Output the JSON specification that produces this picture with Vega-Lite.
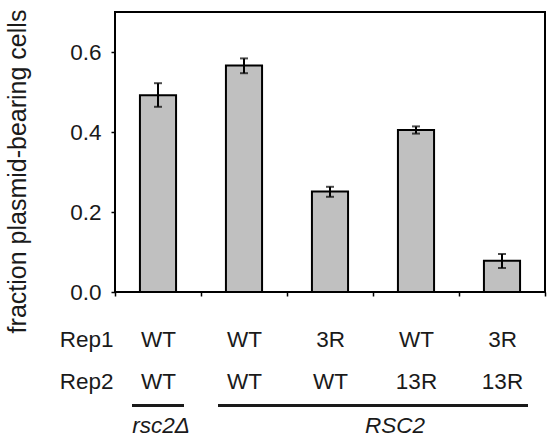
{
  "$schema": "https://vega.github.io/schema/vega-lite/v6.json",
  "width": 430,
  "height": 280,
  "autosize": {"type": "none"},
  "padding": {"left": 115, "top": 12, "right": 7, "bottom": 149},
  "background": "white",
  "config": {
    "font": "Liberation Sans",
    "view": {"stroke": "black", "strokeWidth": 2},
    "axis": {"grid": false, "domain": false, "tickColor": "black", "tickWidth": 1.5, "labelColor": "#1a1a1a", "titleColor": "#1a1a1a", "labelFont": "Liberation Sans", "titleFont": "Liberation Sans"}
  },
  "datasets": {
    "bars": [
      {"cat": "rsc2Δ: WT/WT", "frac": 0.492, "lo": 0.463, "hi": 0.522},
      {"cat": "RSC2: WT/WT", "frac": 0.566, "lo": 0.547, "hi": 0.584},
      {"cat": "RSC2: 3R/WT", "frac": 0.251, "lo": 0.238, "hi": 0.263},
      {"cat": "RSC2: WT/13R", "frac": 0.405, "lo": 0.396, "hi": 0.414},
      {"cat": "RSC2: 3R/13R", "frac": 0.078, "lo": 0.060, "hi": 0.095}
    ],
    "groups": [
      {"group": "rsc2Δ", "first": "rsc2Δ: WT/WT", "last": "rsc2Δ: WT/WT", "labelAt": "rsc2Δ: WT/WT"},
      {"group": "RSC2", "first": "RSC2: WT/WT", "last": "RSC2: 3R/13R", "labelAt": "RSC2: WT/13R"}
    ]
  },
  "layer": [
    {
      "data": {"name": "bars"},
      "mark": {"type": "bar", "fill": "#c0c0c0", "stroke": "black", "strokeWidth": 2, "width": {"band": 0.42}},
      "encoding": {
        "x": {
          "field": "cat", "type": "nominal",
          "scale": {"domain": ["rsc2Δ: WT/WT", "RSC2: WT/WT", "RSC2: 3R/WT", "RSC2: WT/13R", "RSC2: 3R/13R"], "paddingInner": 0, "paddingOuter": 0},
          "axis": {
            "title": ["Rep1", "Rep2"],
            "titleX": -2, "titleY": 54, "titleAlign": "right", "titleBaseline": "alphabetic", "titleAngle": 0,
            "titleFontSize": 22.5, "titleFontWeight": "normal", "titleLineHeight": 42,
            "tickBand": "extent", "tickSize": 4,
            "labelExpr": "isString(datum.value) && indexof(datum.value, ': ') > 0 ? split(split(datum.value, ': ')[1], '/') : ''",
            "labelAngle": 0, "labelFontSize": 22.5, "labelBaseline": "alphabetic", "labelPadding": 50,
            "labelLineHeight": 42, "labelOverlap": false, "labelBound": false, "labelFlush": false
          }
        },
        "y": {
          "field": "frac", "type": "quantitative",
          "scale": {"domain": [0, 0.7], "nice": false, "zero": true},
          "axis": {
            "title": "fraction plasmid-bearing cells",
            "titleFontSize": 25, "titleFontWeight": "normal", "titleAngle": 270,
            "titleX": -98, "titleY": 159, "titleAlign": "center", "titleBaseline": "middle",
            "values": [0, 0.1, 0.2, 0.3, 0.4, 0.5, 0.6, 0.7],
            "labelExpr": "round(datum.value*10) % 2 == 0 && datum.value < 0.65 ? format(datum.value, '.1f') : ''",
            "labelFontSize": 22.5, "labelPadding": 10, "tickSize": 4
          }
        }
      }
    },
    {
      "data": {"name": "bars"},
      "mark": {"type": "rule", "color": "black", "strokeWidth": 2},
      "encoding": {
        "x": {"field": "cat", "type": "nominal"},
        "y": {"field": "lo", "type": "quantitative"},
        "y2": {"field": "hi"}
      }
    },
    {
      "data": {"name": "bars"},
      "mark": {"type": "tick", "color": "black", "size": 8, "thickness": 2},
      "encoding": {
        "x": {"field": "cat", "type": "nominal"},
        "y": {"field": "lo", "type": "quantitative"}
      }
    },
    {
      "data": {"name": "bars"},
      "mark": {"type": "tick", "color": "black", "size": 8, "thickness": 2},
      "encoding": {
        "x": {"field": "cat", "type": "nominal"},
        "y": {"field": "hi", "type": "quantitative"}
      }
    },
    {
      "data": {"name": "groups"},
      "mark": {"type": "rule", "color": "#1a1a1a", "strokeWidth": 3, "xOffset": -26, "x2Offset": 26},
      "encoding": {
        "x": {"field": "first", "type": "nominal"},
        "x2": {"field": "last"},
        "y": {"datum": -0.28375, "type": "quantitative"}
      }
    },
    {
      "data": {"name": "groups"},
      "transform": [{"filter": "datum.group == 'rsc2Δ'"}],
      "mark": {"type": "text", "fontSize": 22.5, "fontStyle": "italic", "color": "#1a1a1a", "baseline": "alphabetic", "align": "center", "dx": 3},
      "encoding": {
        "x": {"field": "labelAt", "type": "nominal"},
        "y": {"datum": -0.3525, "type": "quantitative"},
        "text": {"field": "group"}
      }
    },
    {
      "data": {"name": "groups"},
      "transform": [{"filter": "datum.group == 'RSC2'"}],
      "mark": {"type": "text", "fontSize": 22.5, "fontStyle": "italic", "color": "#1a1a1a", "baseline": "alphabetic", "align": "center", "dx": -21},
      "encoding": {
        "x": {"field": "labelAt", "type": "nominal"},
        "y": {"datum": -0.3525, "type": "quantitative"},
        "text": {"field": "group"}
      }
    }
  ]
}
